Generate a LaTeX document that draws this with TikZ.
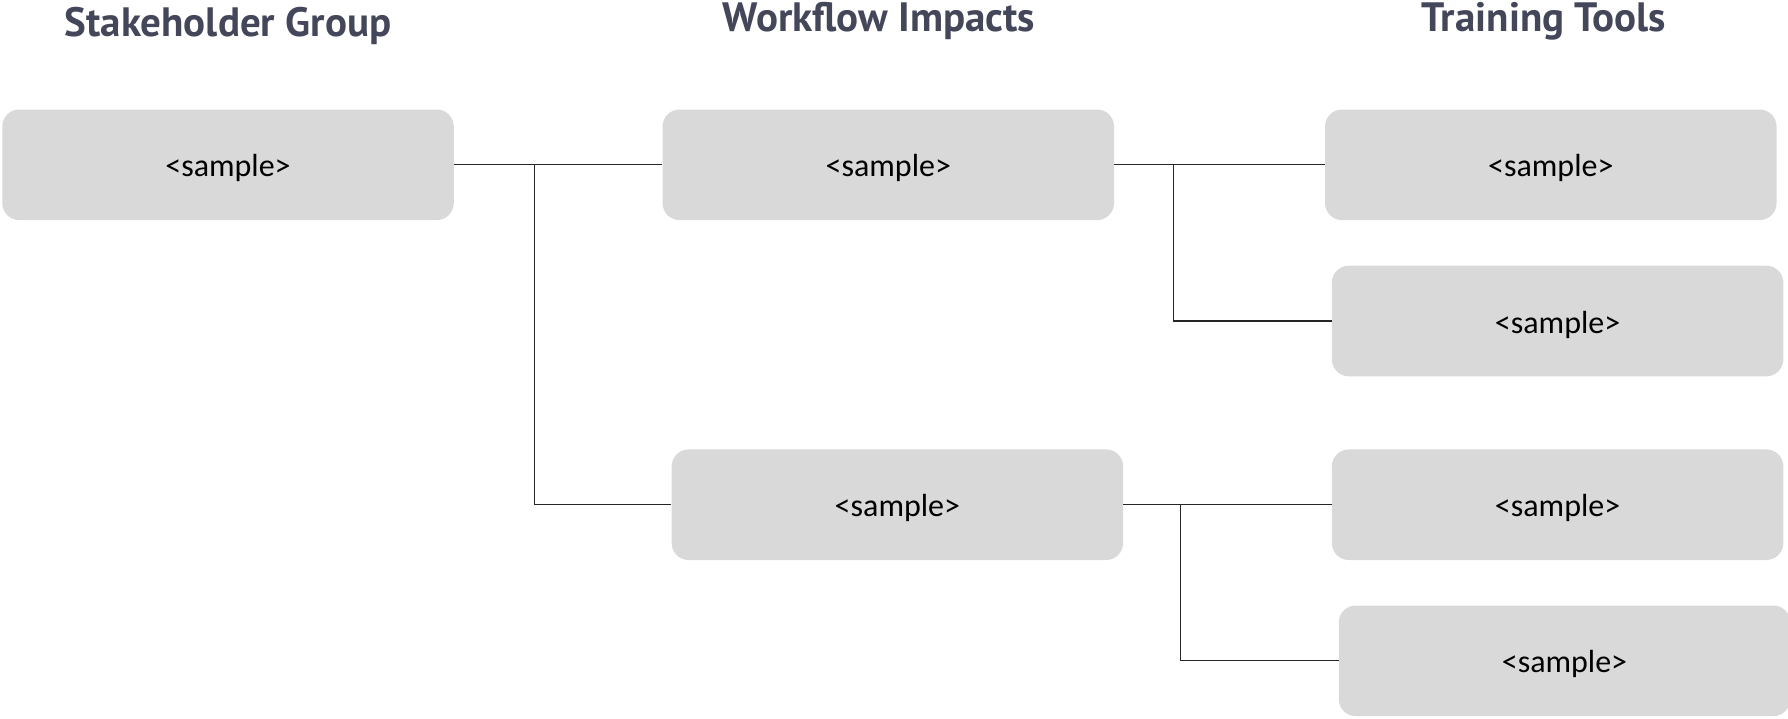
\documentclass[tikz,border=0pt]{standalone}
\usepackage{fontspec}
\setmainfont{Carlito}
\newfontfamily\titlefont{PT Sans}
\definecolor{boxgray}{RGB}{217,217,217}
\definecolor{titlecol}{RGB}{68,70,90}
\begin{document}
\begin{tikzpicture}[x=1pt,y=-1pt,
  itembox/.style={fill=boxgray, draw=none, rounded corners=17pt, minimum width=451.5pt, minimum height=110.6pt, inner sep=0pt, text height=30pt, text depth=6pt, font=\fontsize{32}{38}\selectfont, text=black},
  headtext/.style={anchor=base, font=\titlefont\bfseries\fontsize{41}{48}\selectfont, text=titlecol, inner sep=0pt},
  link/.style={draw=black!85, line width=1.3pt}]
\useasboundingbox (0,0) rectangle (1788,718);
\node[headtext] (h1) at (228,36.5) {Stakeholder Group};
\node[headtext] (h2) at (879,31) {Workflow Impacts};
\node[headtext] (h3) at (1544,31) {Training Tools};
\node[itembox] (A) at (228,164.8) {<sample>};
\node[itembox] (B1) at (888.3,164.8) {<sample>};
\node[itembox] (B2) at (897.4,504.7) {<sample>};
\node[itembox] (C1) at (1550.8,164.8) {<sample>};
\node[itembox] (C2) at (1557.6,321) {<sample>};
\node[itembox] (C3) at (1557.6,504.7) {<sample>};
\node[itembox] (C4) at (1564.5,660.8) {<sample>};
\coordinate (j1) at (534.8,164.8);
\coordinate (j2) at (1173.4,164.8);
\coordinate (j3) at (1180.2,504.7);
\draw[link] (A.east) -- (B1.west);
\draw[link] (j1) |- (B2.west);
\draw[link] (B1.east) -- (C1.west);
\draw[link] (j2) |- (C2.west);
\draw[link] (B2.east) -- (C3.west);
\draw[link] (j3) |- (C4.west);
\end{tikzpicture}
\end{document}
